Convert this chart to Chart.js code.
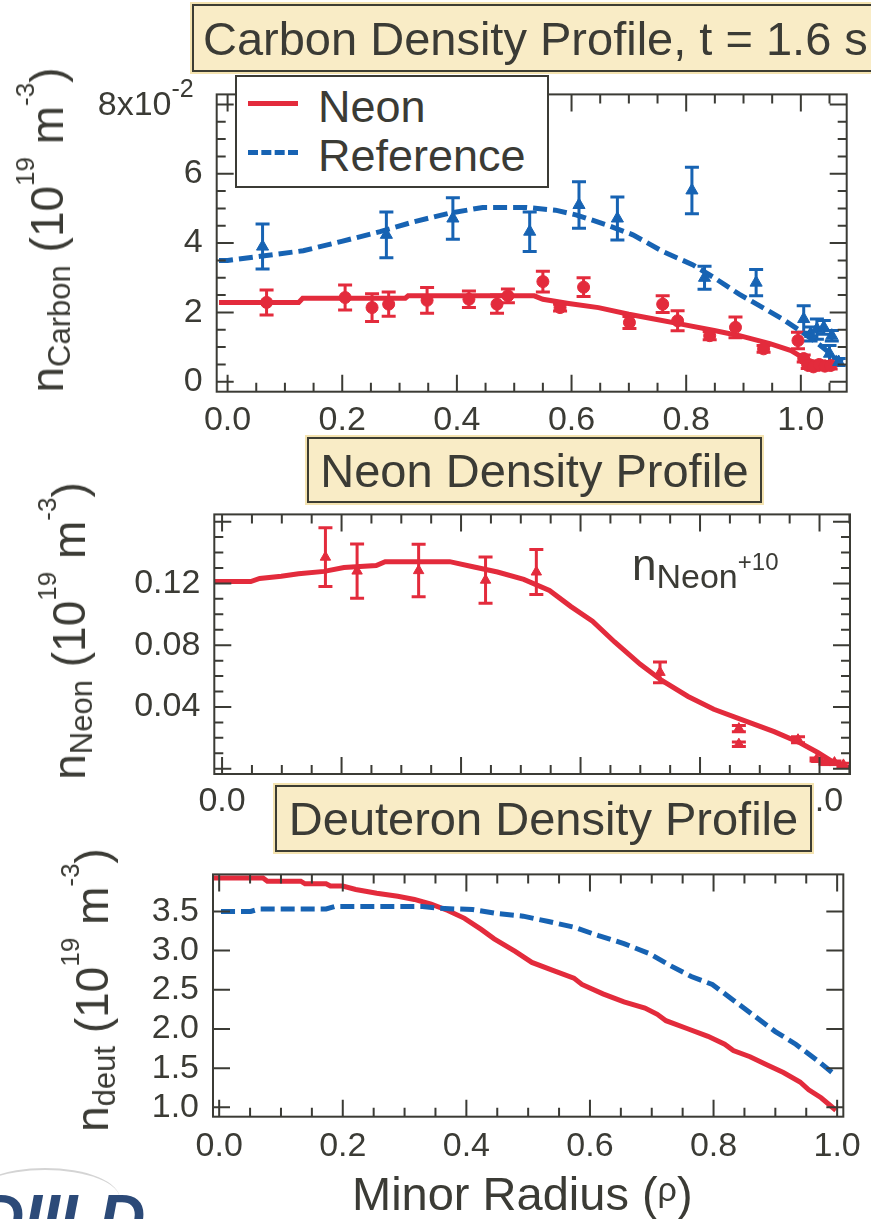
<!DOCTYPE html>
<html>
<head>
<meta charset="utf-8">
<script src="https://cdn.jsdelivr.net/npm/chart.js@4.4.1/dist/chart.umd.min.js"></script>
<style>
  body { margin: 0; width: 871px; height: 1219px; overflow: hidden; background: #fff;
         position: relative; font-family: "Liberation Sans", Arial, sans-serif; color: #3b3b35; }
  .panel { position: absolute; left: 0; width: 871px; }
  .box { position: absolute; box-sizing: border-box; background: #f9ecc6; border: 2px solid #3d3d33;
         box-shadow: 0 0 0 2px #f4e3b0; font-size: 47px; line-height: 1; white-space: nowrap;
         display: flex; align-items: center; }
  .ytitle { position: absolute; font-size: 46px; line-height: 1; white-space: nowrap;
            transform: translate(-50%, -50%) rotate(-90deg); }
  .sub { font-size: 31px; position: relative; top: 7px; }
  .sup { font-size: 26px; position: relative; top: -29px; }
  .legend { position: absolute; left: 235px; top: 75px; width: 314px; height: 113px; box-sizing: border-box;
            background: #fff; border: 2px solid #3b3b35; font-size: 45px; line-height: 1; }
  .legend .row { position: absolute; left: 0; width: 100%; height: 45px; }
  .legend .swatch { position: absolute; left: 11px; top: 19px; width: 50px; height: 0; border-top: 5px solid; }
  .legend .lab { position: absolute; left: 81px; top: 2px; }
</style>
</head>
<body>

<div class="panel" style="top:60px;height:400px"><canvas id="carbon" width="871" height="400"></canvas></div>
<div class="panel" style="top:480px;height:360px"><canvas id="neon" width="871" height="360"></canvas></div>
<div class="panel" style="top:840px;height:379px"><canvas id="deut" width="871" height="379"></canvas></div>

<div class="box" style="left:192px;top:4px;width:700px;height:68px;padding-left:9px">Carbon Density Profile, t = 1.6 s</div>
<div class="box" style="left:307px;top:437px;width:455px;height:66px;justify-content:center">Neon Density Profile</div>
<div class="box" style="left:275px;top:785px;width:537px;height:67px;justify-content:center">Deuteron Density Profile</div>

<div class="legend">
  <div class="row" style="top:5px"><div class="swatch" style="border-color:#e32b3c"></div><div class="lab">Neon</div></div>
  <div class="row" style="top:54px"><div class="swatch" style="border-top:5px dashed #1763b3"></div><div class="lab">Reference</div></div>
</div>

<div class="ytitle" style="left:47px;top:230px">n<span class="sub">Carbon</span> (10<span class="sup">19</span> m<span class="sup">-3</span>)</div>
<div class="ytitle" style="left:69px;top:631px">n<span class="sub">Neon</span> (10<span class="sup">19</span> m<span class="sup">-3</span>)</div>
<div class="ytitle" style="left:92px;top:990px">n<span class="sub">deut</span> (10<span class="sup">19</span> m<span class="sup">-3</span>)</div>

<div style="position:absolute;left:632px;top:543px;font-size:44px;line-height:1;white-space:nowrap">n<span style="font-size:34px;position:relative;top:8px">Neon</span><span style="font-size:24px;position:relative;top:-10px">+10</span></div>

<div style="position:absolute;left:352px;top:1170px;font-size:47px;line-height:1;white-space:nowrap">Minor Radius (<span style="font-size:34px;position:relative;top:-9px">ρ</span>)</div>

<div style="position:absolute;left:-30px;top:1168px;width:150px;height:60px;border-top:2px solid #d4d4d4;border-radius:50%"></div>
<div style="position:absolute;left:-22px;top:1186px;font-size:64px;line-height:1;font-weight:bold;font-style:italic;color:#2c4a78">DIII-D</div>

<script>
const ink = '#3b3b35';
const red = '#e32b3c';
const blue = '#1763b3';

// tick labels
const xTickVals = [0, 0.2, 0.4, 0.6, 0.8, 1.0];
const carbonYTicks = [0, 0.02, 0.04, 0.06, 0.08];
const neonYTicks = [0.04, 0.08, 0.12];
const deutYTicks = [1.0, 1.5, 2.0, 2.5, 3.0, 3.5];

// Carbon density: model curves
const cNeonFitX = [-0.015, 0.124, 0.131, 0.31, 0.315, 0.535, 0.55, 0.595, 0.647, 0.70, 0.744, 0.789, 0.849, 0.893, 0.946, 0.983, 1.006, 1.03, 1.055];
const cNeonFitY = [0.0229, 0.0229, 0.0241, 0.0241, 0.0248, 0.0248, 0.0238, 0.0226, 0.0214, 0.0195, 0.0181, 0.0167, 0.0148, 0.0133, 0.011, 0.009, 0.0067, 0.0052, 0.0042];
const cRefFitX = [-0.015, 0.0, 0.057, 0.132, 0.199, 0.266, 0.326, 0.386, 0.445, 0.52, 0.572, 0.609, 0.662, 0.707, 0.759, 0.811, 0.849, 0.893, 0.938, 0.968, 0.998, 1.03, 1.072];
const cRefFitY = [0.035, 0.035, 0.0362, 0.0378, 0.0405, 0.0433, 0.0462, 0.0486, 0.0503, 0.0503, 0.0495, 0.0481, 0.0452, 0.0424, 0.0376, 0.0338, 0.030, 0.0252, 0.021, 0.0181, 0.0148, 0.011, 0.0055];
// Carbon density: measurements
const cNeonPtsX = [0.068, 0.205, 0.252, 0.281, 0.348, 0.421, 0.47, 0.489, 0.55, 0.58, 0.621, 0.701, 0.759, 0.785, 0.841, 0.886, 0.935, 0.995, 1.005, 1.012, 1.022, 1.032, 1.042, 1.052];
const cNeonPtsY = [0.0229, 0.0243, 0.0214, 0.0224, 0.0235, 0.0238, 0.0224, 0.0248, 0.0289, 0.0214, 0.0273, 0.0171, 0.0224, 0.0176, 0.0133, 0.0157, 0.0095, 0.0119, 0.0067, 0.0048, 0.0043, 0.005, 0.0045, 0.0047];
const cNeonPtsErr = [0.0036, 0.0036, 0.004, 0.0035, 0.0037, 0.0024, 0.0026, 0.002, 0.003, 0.001, 0.0027, 0.0017, 0.0024, 0.0029, 0.0012, 0.003, 0.001, 0.0024, 0.001, 0.001, 0.001, 0.001, 0.001, 0.001];
const cRefPtsX = [0.061, 0.277, 0.393, 0.527, 0.613, 0.68, 0.81, 0.832, 0.922, 1.005, 1.017, 1.028, 1.04, 1.054, 1.05, 1.066];
const cRefPtsY = [0.039, 0.0424, 0.0471, 0.0433, 0.051, 0.0471, 0.0552, 0.030, 0.0286, 0.0181, 0.0138, 0.0152, 0.0157, 0.0133, 0.0081, 0.0057];
const cRefPtsErr = [0.0065, 0.0066, 0.006, 0.0057, 0.0067, 0.0062, 0.0067, 0.0033, 0.0038, 0.0038, 0.002, 0.0029, 0.002, 0.0015, 0.0024, 0.001];

// Neon density
const neFitX = [-0.013, 0.048, 0.063, 0.099, 0.128, 0.171, 0.204, 0.258, 0.273, 0.381, 0.418, 0.461, 0.505, 0.548, 0.584, 0.62, 0.657, 0.70, 0.736, 0.78, 0.823, 0.881, 0.924, 0.968, 0.997, 1.019, 1.04];
const neFitY = [0.1212, 0.1212, 0.1232, 0.1247, 0.1262, 0.1278, 0.1303, 0.1316, 0.1341, 0.1341, 0.131, 0.1274, 0.1226, 0.1154, 0.105, 0.0956, 0.0821, 0.0676, 0.0572, 0.0468, 0.0385, 0.0302, 0.024, 0.0167, 0.0105, 0.0053, 0.0022];
const nePtsX = [0.173, 0.226, 0.329, 0.441, 0.526, 0.733, 0.865, 0.865, 0.964, 0.995, 1.01, 1.025, 1.04];
const nePtsY = [0.137, 0.128, 0.1283, 0.1221, 0.1274, 0.0624, 0.026, 0.0159, 0.0188, 0.006, 0.004, 0.004, 0.0025];
const nePtsErr = [0.019, 0.0176, 0.017, 0.015, 0.0145, 0.0067, 0.002, 0.0015, 0.002, 0.001, 0.001, 0.001, 0.001];

// Deuteron density
const dNeonX = [-0.01, 0.071, 0.078, 0.132, 0.139, 0.173, 0.18, 0.2, 0.221, 0.255, 0.289, 0.316, 0.343, 0.37, 0.397, 0.424, 0.445, 0.479, 0.506, 0.54, 0.574, 0.587, 0.621, 0.655, 0.689, 0.709, 0.723, 0.757, 0.791, 0.818, 0.832, 0.859, 0.886, 0.913, 0.94, 0.954, 0.974, 0.998];
const dNeonY = [3.926, 3.926, 3.886, 3.886, 3.853, 3.853, 3.825, 3.825, 3.781, 3.733, 3.693, 3.653, 3.592, 3.512, 3.412, 3.271, 3.151, 2.99, 2.849, 2.749, 2.649, 2.568, 2.448, 2.347, 2.267, 2.187, 2.106, 2.006, 1.906, 1.805, 1.725, 1.645, 1.544, 1.444, 1.323, 1.223, 1.122, 0.962];
const dRefX = [0.003, 0.051, 0.065, 0.173, 0.187, 0.329, 0.356, 0.41, 0.451, 0.492, 0.533, 0.574, 0.614, 0.655, 0.696, 0.73, 0.764, 0.798, 0.832, 0.866, 0.9, 0.933, 0.967, 0.998];
const dRefY = [3.5, 3.5, 3.532, 3.532, 3.564, 3.564, 3.54, 3.524, 3.472, 3.44, 3.371, 3.299, 3.191, 3.09, 2.962, 2.809, 2.669, 2.568, 2.367, 2.167, 1.966, 1.805, 1.604, 1.404];

const pts = (xs, ys) => xs.map((x, i) => ({ x: x, y: ys[i] }));

// frame box with inward ticks on all four sides
const frameTicks = {
  id: 'frameTicks',
  afterDatasetsDraw(chart, args, o) {
    const { ctx, chartArea: a, scales: { x, y } } = chart;
    ctx.save();
    ctx.strokeStyle = ink;
    ctx.lineWidth = 2;
    const each = (scale, minor, major, fn) => {
      for (let k = Math.ceil(scale.min / minor - 1e-6); k * minor <= scale.max + 1e-9; k++) {
        const v = k * minor;
        const r = v / major;
        fn(scale.getPixelForValue(v), Math.abs(r - Math.round(r)) < 1e-6 ? 17 : 9);
      }
    };
    ctx.beginPath();
    each(x, o.xMinor, o.xMajor, (px, len) => {
      ctx.moveTo(px, a.bottom); ctx.lineTo(px, a.bottom - len);
      ctx.moveTo(px, a.top); ctx.lineTo(px, a.top + len);
    });
    each(y, o.yMinor, o.yMajor, (py, len) => {
      ctx.moveTo(a.left, py); ctx.lineTo(a.left + len, py);
      ctx.moveTo(a.right, py); ctx.lineTo(a.right - len, py);
    });
    ctx.stroke();
    ctx.strokeRect(a.left, a.top, a.right - a.left, a.bottom - a.top);
    if (o.expLabel) {
      const py = y.getPixelForValue(o.expLabel.value);
      ctx.fillStyle = ink;
      ctx.font = '25px "Liberation Sans", Arial, sans-serif';
      const w2 = ctx.measureText(o.expLabel.exp).width;
      const right = a.left - 23;
      ctx.textAlign = 'left';
      ctx.textBaseline = 'alphabetic';
      ctx.fillText(o.expLabel.exp, right - w2, py - 7);
      ctx.font = '34px "Liberation Sans", Arial, sans-serif';
      ctx.textAlign = 'right';
      ctx.textBaseline = 'middle';
      ctx.fillText(o.expLabel.base, right - w2, py + 1);
    }
    ctx.restore();
  }
};

// vertical error bars from each dataset's yErr list
const errorBars = {
  id: 'errorBars',
  beforeDatasetsDraw(chart) {
    const { ctx, scales: { x, y } } = chart;
    ctx.save();
    ctx.lineWidth = 3;
    chart.data.datasets.forEach(ds => {
      if (!ds.yErr) return;
      ctx.strokeStyle = ds.borderColor;
      ds.data.forEach((p, i) => {
        const px = x.getPixelForValue(p.x);
        const lo = y.getPixelForValue(p.y - ds.yErr[i]);
        const hi = y.getPixelForValue(p.y + ds.yErr[i]);
        ctx.beginPath();
        ctx.moveTo(px, lo); ctx.lineTo(px, hi);
        ctx.moveTo(px - 7, lo); ctx.lineTo(px + 7, lo);
        ctx.moveTo(px - 7, hi); ctx.lineTo(px + 7, hi);
        ctx.stroke();
      });
    });
    ctx.restore();
  }
};

function lineSet(data, color, dashed) {
  return { data: data, showLine: true, fill: false, borderColor: color, borderWidth: 5,
           borderDash: dashed ? [14, 6] : [], pointRadius: 0, tension: 0, order: 2 };
}
function pointSet(data, err, color, style, r) {
  return { data: data, yErr: err, showLine: false, borderColor: color, backgroundColor: color,
           pointStyle: style, pointRadius: r, pointBorderWidth: 1, order: 1 };
}

const tickFont = { size: 34, family: '"Liberation Sans", Arial, sans-serif' };

function makePanel(id, p) {
  return new Chart(document.getElementById(id), {
    type: 'scatter',
    data: { datasets: p.datasets },
    plugins: [errorBars, frameTicks],
    options: {
      responsive: false,
      animation: false,
      layout: { padding: { left: 0, right: p.padRight, top: p.padTop, bottom: 0 } },
      plugins: { legend: { display: false }, tooltip: { enabled: false }, frameTicks: p.frame },
      scales: {
        x: {
          type: 'linear', min: p.xMin, max: p.xMax,
          afterBuildTicks: s => { s.ticks = xTickVals.map(v => ({ value: v })); },
          afterFit: s => { s.height = p.xAxisH; },
          grid: { display: false, drawTicks: false }, border: { display: false },
          ticks: { color: ink, font: tickFont, padding: p.xPad, autoSkip: false, maxRotation: 0,
                   callback: v => v.toFixed(1) }
        },
        y: {
          type: 'linear', min: p.yMin, max: p.yMax,
          afterBuildTicks: s => { s.ticks = p.yTicks.map(v => ({ value: v })); },
          afterFit: s => { s.width = p.yAxisW; },
          grid: { display: false, drawTicks: false }, border: { display: false },
          ticks: { color: ink, font: tickFont, padding: 14, autoSkip: false, callback: p.yLabel }
        }
      }
    }
  });
}

makePanel('carbon', {
  xMin: -0.019, xMax: 1.080, yMin: -0.00286, yMax: 0.0829,
  yTicks: carbonYTicks, yAxisW: 216.7, padRight: 24.3, padTop: 31.7, xAxisH: 68.3, xPad: 9,
  yLabel: v => (v > 0.07 ? '' : String(Math.round(v * 100))),
  frame: { xMinor: 0.05, xMajor: 0.2, yMinor: 0.005, yMajor: 0.02,
           expLabel: { value: 0.08, base: '8x10', exp: '-2' } },
  datasets: [
    lineSet(pts(cRefFitX, cRefFitY), blue, true),
    lineSet(pts(cNeonFitX, cNeonFitY), red, false),
    pointSet(pts(cRefPtsX, cRefPtsY), cRefPtsErr, blue, 'triangle', 7),
    pointSet(pts(cNeonPtsX, cNeonPtsY), cNeonPtsErr, red, 'circle', 6)
  ]
});

makePanel('neon', {
  xMin: -0.013, xMax: 1.051, yMin: -0.0034, yMax: 0.1647,
  yTicks: neonYTicks, yAxisW: 214.3, padRight: 21, padTop: 24.3, xAxisH: 66, xPad: 7,
  yLabel: v => v.toFixed(2),
  frame: { xMinor: 0.05, xMajor: 0.2, yMinor: 0.01, yMajor: 0.04 },
  datasets: [
    lineSet(pts(neFitX, neFitY), red, false),
    pointSet(pts(nePtsX, nePtsY), nePtsErr, red, 'triangle', 6)
  ]
});

makePanel('deut', {
  xMin: -0.01, xMax: 1.01, yMin: 0.88, yMax: 3.973,
  yTicks: deutYTicks, yAxisW: 213, padRight: 23, padTop: 20, xAxisH: 102.3, xPad: 10,
  yLabel: v => v.toFixed(1),
  frame: { xMinor: 0.05, xMajor: 0.2, yMinor: 0.5, yMajor: 0.5 },
  datasets: [
    lineSet(pts(dRefX, dRefY), blue, true),
    lineSet(pts(dNeonX, dNeonY), red, false)
  ]
});
</script>
</body>
</html>
